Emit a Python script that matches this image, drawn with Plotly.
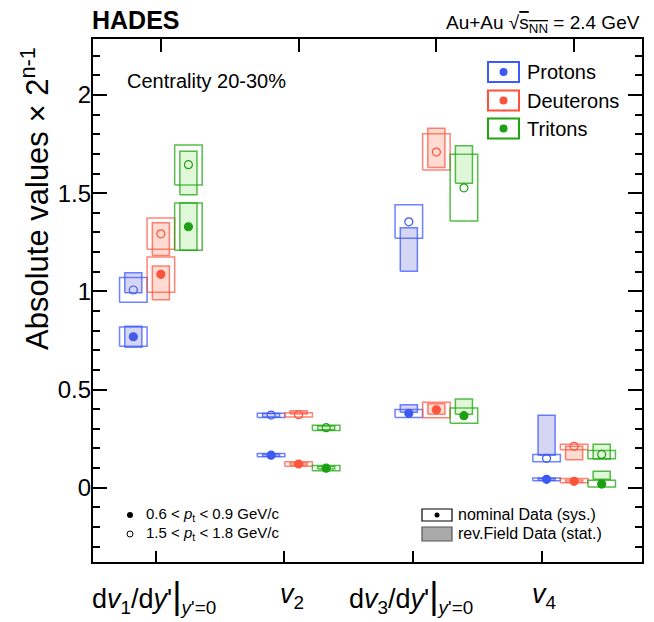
import plotly.graph_objects as go

# ---------------- data ----------------
categories = ["dv1/dy'", "v2", "dv3/dy'", "v4"]
cat_pos = [1, 2, 3, 4]
particles = ["Protons", "Deuterons", "Tritons"]

# low pt (0.6 < pt < 0.9) : nominal value, nominal sys range, rev.Field range
p_low_val = [0.769, 0.166, 0.379, 0.043]
p_low_sys_lo = [0.721, 0.158, 0.358, 0.036]
p_low_sys_hi = [0.818, 0.175, 0.399, 0.050]
p_low_rev_lo = [0.715, 0.161, 0.384, 0.038]
p_low_rev_hi = [0.823, 0.172, 0.423, 0.048]
# high pt (1.5 < pt < 1.8)
p_high_val = [1.007, 0.370, 1.354, 0.150]
p_high_sys_lo = [0.944, 0.358, 1.271, 0.132]
p_high_sys_hi = [1.071, 0.379, 1.441, 0.170]
p_high_rev_lo = [0.993, 0.360, 1.102, 0.166]
p_high_rev_hi = [1.095, 0.378, 1.324, 0.369]

d_low_val = [1.087, 0.121, 0.397, 0.033]
d_low_sys_lo = [0.995, 0.110, 0.356, 0.025]
d_low_sys_hi = [1.175, 0.132, 0.435, 0.047]
d_low_rev_lo = [0.957, 0.115, 0.374, 0.028]
d_low_rev_hi = [1.129, 0.128, 0.428, 0.040]
d_high_val = [1.293, 0.372, 1.709, 0.211]
d_high_sys_lo = [1.214, 0.360, 1.618, 0.194]
d_high_sys_hi = [1.373, 0.382, 1.802, 0.222]
d_high_rev_lo = [1.183, 0.375, 1.631, 0.143]
d_high_rev_hi = [1.349, 0.392, 1.830, 0.211]

t_low_val = [1.329, 0.100, 0.367, 0.019]
t_low_sys_lo = [1.209, 0.087, 0.328, 0.004]
t_low_sys_hi = [1.450, 0.114, 0.406, 0.038]
t_low_rev_lo = [1.209, 0.095, 0.374, 0.043]
t_low_rev_hi = [1.450, 0.108, 0.452, 0.084]
t_high_val = [1.645, 0.306, 1.527, 0.170]
t_high_sys_lo = [1.541, 0.292, 1.358, 0.148]
t_high_sys_hi = [1.745, 0.318, 1.698, 0.190]
t_high_rev_lo = [1.492, 0.296, 1.551, 0.146]
t_high_rev_hi = [1.713, 0.314, 1.741, 0.222]

y_ticks = [0, 0.5, 1, 1.5, 2]
y_tick_labels = ["0", "0.5", "1", "1.5", "2"]
bottom_ticks = [0.962, 1.896, 2.832, 3.768]

# ---------------- style ----------------
offsets = [-0.2, 0.0, 0.2]
SYS_HW = 0.1
REV_HW = 0.062
line_col = ["rgba(60,90,255,0.75)", "rgba(255,80,60,0.7)", "rgba(30,165,15,0.75)"]
leg_col = ["rgb(60,90,255)", "rgb(255,80,60)", "rgb(30,165,15)"]
fill_col = ["rgba(100,100,215,0.27)", "rgba(255,110,70,0.25)", "rgba(120,220,80,0.22)"]
dot_col = ["rgb(60,90,240)", "rgb(250,85,60)", "rgb(30,160,20)"]
FONT = "Liberation Sans, Arial, sans-serif"

data = {
    0: dict(low=(p_low_val, p_low_sys_lo, p_low_sys_hi, p_low_rev_lo, p_low_rev_hi),
            high=(p_high_val, p_high_sys_lo, p_high_sys_hi, p_high_rev_lo, p_high_rev_hi)),
    1: dict(low=(d_low_val, d_low_sys_lo, d_low_sys_hi, d_low_rev_lo, d_low_rev_hi),
            high=(d_high_val, d_high_sys_lo, d_high_sys_hi, d_high_rev_lo, d_high_rev_hi)),
    2: dict(low=(t_low_val, t_low_sys_lo, t_low_sys_hi, t_low_rev_lo, t_low_rev_hi),
            high=(t_high_val, t_high_sys_lo, t_high_sys_hi, t_high_rev_lo, t_high_rev_hi)),
}


def boxes(xc, lo, hi, hw):
    xs, ys = [], []
    for x, a, b in zip(xc, lo, hi):
        xs += [x - hw, x + hw, x + hw, x - hw, x - hw, None]
        ys += [a, a, b, b, a, None]
    return xs, ys


fig = go.Figure()

for ip, name in enumerate(particles):
    xc = [c + offsets[ip] for c in cat_pos]
    for pt in ["low", "high"]:
        val, slo, shi, rlo, rhi = data[ip][pt]
        xs, ys = boxes(xc, slo, shi, SYS_HW)
        fig.add_trace(go.Scatter(x=xs, y=ys, mode="lines",
                                 line=dict(color=line_col[ip], width=1.5),
                                 hoverinfo="skip", showlegend=False))
        rx, ry = boxes(xc, rlo, rhi, REV_HW)
        rev = go.Scatter(x=rx, y=ry, mode="lines", fill="toself", fillcolor=fill_col[ip],
                         line=dict(color=line_col[ip], width=1.5),
                         hoverinfo="skip", showlegend=False)
        mk = go.Scatter(x=xc, y=val, mode="markers",
                        marker=dict(symbol="circle" if pt == "low" else "circle-open",
                                    size=8, color=dot_col[ip],
                                    line=dict(width=1.2, color=dot_col[ip])),
                        name=name, showlegend=False)
        if ip == 0:
            fig.add_trace(mk)
            fig.add_trace(rev)
        else:
            fig.add_trace(rev)
            fig.add_trace(mk)

# invisible trace for the top axis
fig.add_trace(go.Scatter(x=[cat_pos[0]], y=[0], xaxis="x2", mode="markers",
                         marker=dict(opacity=0), hoverinfo="skip", showlegend=False))

W, H = 654, 622
L, R, T, B = 92, 11, 38, 59
PW, PH = W - L - R, H - T - B


def px(p):
    return (p - L) / PW


def py(p):
    return (H - B - p) / PH


shapes = []
ann = []

# frame
shapes.append(dict(type="rect", xref="paper", yref="paper", x0=0, x1=1, y0=0, y1=1,
                   line=dict(color="black", width=2), layer="above"))

# particle legend (top right)
leg_y = [72, 100.5, 128.5]
for ip, name in enumerate(particles):
    yc = leg_y[ip]
    shapes.append(dict(type="rect", xref="paper", yref="paper",
                       x0=px(488), x1=px(519), y0=py(yc - 10), y1=py(yc + 10),
                       line=dict(color=leg_col[ip], width=2)))
    shapes.append(dict(type="circle", xref="paper", yref="paper",
                       x0=px(499.5), x1=px(507.5), y0=py(yc - 4), y1=py(yc + 4),
                       fillcolor=dot_col[ip], line=dict(color=dot_col[ip], width=0)))
    ann.append(dict(text=name, xref="paper", yref="paper", x=px(525), y=py(yc),
                    xanchor="left", yanchor="middle", showarrow=False,
                    font=dict(size=20, color="black", family=FONT)))

# pt legend (bottom left)
shapes.append(dict(type="circle", xref="paper", yref="paper",
                   x0=px(127), x1=px(133), y0=py(512), y1=py(518),
                   fillcolor="black", line=dict(color="black", width=0)))
shapes.append(dict(type="circle", xref="paper", yref="paper",
                   x0=px(127), x1=px(133), y0=py(531), y1=py(537),
                   fillcolor="white", line=dict(color="black", width=1)))
ann.append(dict(text="0.6 &lt; <i>p</i><sub>t</sub> &lt; 0.9 GeV/c", xref="paper", yref="paper",
                x=px(144), y=py(514), xanchor="left", yanchor="middle", showarrow=False,
                font=dict(size=15, color="black", family=FONT)))
ann.append(dict(text="1.5 &lt; <i>p</i><sub>t</sub> &lt; 1.8 GeV/c", xref="paper", yref="paper",
                x=px(144), y=py(533), xanchor="left", yanchor="middle", showarrow=False,
                font=dict(size=15, color="black", family=FONT)))

# data-type legend (bottom right)
shapes.append(dict(type="rect", xref="paper", yref="paper",
                   x0=px(422), x1=px(452), y0=py(521), y1=py(509),
                   line=dict(color="black", width=1.2)))
shapes.append(dict(type="circle", xref="paper", yref="paper",
                   x0=px(434.5), x1=px(439.5), y0=py(517.5), y1=py(512.5),
                   fillcolor="black", line=dict(width=0)))
shapes.append(dict(type="rect", xref="paper", yref="paper",
                   x0=px(422), x1=px(452), y0=py(541), y1=py(527),
                   fillcolor="#aaaaaa", line=dict(color="#555555", width=1.2)))
ann.append(dict(text="nominal Data (sys.)", xref="paper", yref="paper",
                x=px(456), y=py(514), xanchor="left", yanchor="middle", showarrow=False,
                font=dict(size=16, color="black", family=FONT)))
ann.append(dict(text="rev.Field Data (stat.)", xref="paper", yref="paper",
                x=px(456), y=py(533), xanchor="left", yanchor="middle", showarrow=False,
                font=dict(size=16, color="black", family=FONT)))

# texts
ann.append(dict(text="<b>HADES</b>", xref="paper", yref="paper", x=px(90), y=py(20),
                xanchor="left", yanchor="middle", showarrow=False,
                font=dict(size=25, color="black", family=FONT)))
ann.append(dict(text="Au+Au √<span style='text-decoration:overline'>s<sub>NN</sub></span> = 2.4 GeV",
                xref="paper", yref="paper", x=px(642), y=py(24),
                xanchor="right", yanchor="middle", showarrow=False,
                font=dict(size=19, color="black", family=FONT)))
ann.append(dict(text="Centrality 20-30%", xref="paper", yref="paper", x=px(125), y=py(81),
                xanchor="left", yanchor="middle", showarrow=False,
                font=dict(size=20, color="black", family=FONT)))
ann.append(dict(text="Absolute values × 2<sup>n-1</sup>", xref="paper", yref="paper",
                x=px(35), y=py(199), xanchor="center", yanchor="middle", textangle=-90,
                showarrow=False, font=dict(size=31, color="black", family=FONT)))

# category labels below the axis
cat_labels = [
    "d<i>v</i><sub>1</sub>/d<i>y</i>'<span style='font-size:36px'>|</span><sub><i>y</i>'=0</sub>",
    "<i>v</i><sub>2</sub>",
    "d<i>v</i><sub>3</sub>/d<i>y</i>'<span style='font-size:36px'>|</span><sub><i>y</i>'=0</sub>",
    "<i>v</i><sub>4</sub>",
]
lab_x = [0.95, 1.95, 2.815, 3.78]
for t, xv in zip(cat_labels, lab_x):
    ann.append(dict(text=t, xref="x", yref="paper", x=xv, y=py(596),
                    xanchor="center", yanchor="middle", showarrow=False,
                    font=dict(size=27, color="black", family=FONT)))

fig.update_layout(
    width=W, height=H,
    margin=dict(l=L, r=R, t=T, b=B),
    paper_bgcolor="white", plot_bgcolor="white",
    showlegend=False,
    xaxis=dict(range=[0.5, 4.5], showgrid=False, zeroline=False, showline=False,
               tickvals=bottom_ticks, ticks="inside", ticklen=12, tickwidth=1.5,
               tickcolor="black", showticklabels=False),
    xaxis2=dict(range=[0.5, 4.5], overlaying="x", side="top", showgrid=False,
                zeroline=False, showline=False,
                tickvals=cat_pos, ticks="inside", ticklen=14, tickwidth=1.5,
                tickcolor="black", showticklabels=False),
    yaxis=dict(range=[-0.383, 2.29], showgrid=False, zeroline=False,
               showline=False, mirror="ticks",
               tickvals=y_ticks, ticktext=y_tick_labels,
               ticks="inside", ticklen=15, tickwidth=1.5, tickcolor="black",
               tickfont=dict(size=24, color="black", family=FONT),
               minor=dict(dtick=0.1, tick0=0, ticks="inside", ticklen=8,
                          tickwidth=1.5, tickcolor="black")),
    shapes=shapes,
    annotations=ann,
    font=dict(family=FONT),
)

fig.write_html("out.html", config={"displayModeBar": False},
               post_script="document.body.style.margin='0';document.body.style.padding='0';")
